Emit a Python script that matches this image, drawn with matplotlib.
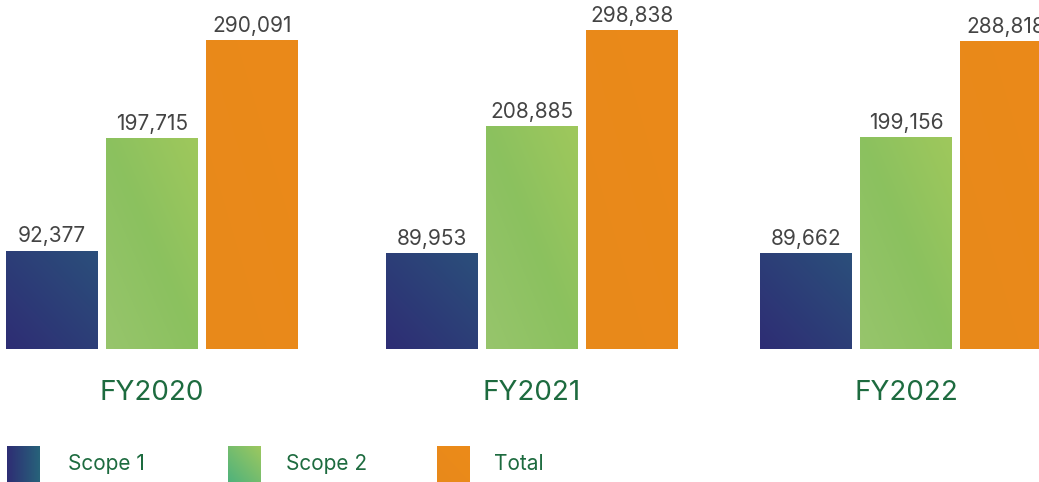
import numpy as np
import matplotlib.pyplot as plt
from matplotlib.colors import LinearSegmentedColormap
from matplotlib.transforms import blended_transform_factory

plt.rcParams['font.family'] = ['Inter', 'DejaVu Sans']

years = ["FY2020", "FY2021", "FY2022"]
series = ["Scope 1", "Scope 2", "Total"]
scope1 = [92377, 89953, 89662]
scope2 = [197715, 208885, 199156]
total = [290091, 298838, 288818]

# diagonal gradients: bottom-left colour -> top-right colour
bar_cmaps = [
    LinearSegmentedColormap.from_list("s1", ["#2e2d74", "#2b4f7b"]),
    LinearSegmentedColormap.from_list("s2", ["#97c56c", "#8bc15f", "#9fc85c"]),
    LinearSegmentedColormap.from_list("tot", ["#e8891b", "#eb8a19"]),
]
legend_cmaps = [
    LinearSegmentedColormap.from_list("l1", ["#2e2d74", "#27627a"]),
    LinearSegmentedColormap.from_list("l2", ["#4fb27c", "#9dc85f"]),
    LinearSegmentedColormap.from_list("l3", ["#e8891b", "#ec8b19"]),
]
label_green = "#1d6b3f"

W, H = 1039, 482
fig = plt.figure(figsize=(W / 100, H / 100), dpi=100)
base = 349
ax = fig.add_axes([0, (H - base) / H, 1, base / H])

# x axis in pixel units so group spacing follows the layout
ax.set_xlim(0, W)
ax.set_ylim(0, base / 0.001066)
ax.axis("off")

grad = np.add.outer(np.linspace(0, 1, 64), np.linspace(0, 1, 64)) / 2
x = np.array([152, 532, 906])
step = 100
width = 92

for i, vals in enumerate([scope1, scope2, total]):
    bars = ax.bar(x + (i - 1) * step, vals, width, color=bar_cmaps[i](0.5), linewidth=0)
    for b, v in zip(bars, vals):
        x0, w, h = b.get_x(), b.get_width(), b.get_height()
        im = ax.imshow(grad, cmap=bar_cmaps[i], origin="lower", aspect="auto",
                       extent=[x0, x0 + w, 0, h], interpolation="bilinear", zorder=2)
        im.set_clip_path(b)
        ax.annotate(f"{v:,}", (x0 + w / 2, h), xytext=(0, 3), textcoords="offset points",
                    ha="center", va="bottom", fontsize=15, color="#444444",
                    annotation_clip=False, zorder=3)
ax.set_xlim(0, W)
ax.set_ylim(0, base / 0.001066)

trans = blended_transform_factory(ax.transData, ax.transAxes)
for xi, yr in zip(x, years):
    ax.text(xi, -44 / base, yr, transform=trans, ha="center", va="center",
            fontsize=20, color=label_green)

# legend drawn in figure pixel space
lg = fig.add_axes([0, 0, 1, 1], zorder=-1)
lg.axis("off")
sw_x = [7, 228, 437]
txt_x = [68, 286, 494]
hgrad = np.tile(np.linspace(0, 1, 64), (64, 1))
for i, name in enumerate(series):
    g = hgrad if i == 0 else grad
    lg.imshow(g, cmap=legend_cmaps[i], origin="lower", aspect="auto",
              extent=[sw_x[i], sw_x[i] + 33, 482, 446], interpolation="bilinear")
    lg.text(txt_x[i], 464, name, ha="left", va="center", fontsize=15, color=label_green)
lg.set_xlim(0, W)
lg.set_ylim(H, 0)

fig.savefig("out.png", dpi=100)
